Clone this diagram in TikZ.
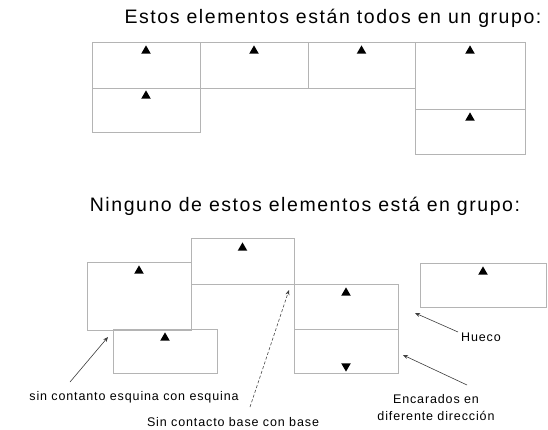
\documentclass[tikz,border=0pt]{standalone}
\usepackage{fontspec}
\setmainfont{Liberation Sans}
\newfontfamily\titfont[LetterSpace=8]{Liberation Sans}
\newfontfamily\notafont[LetterSpace=7]{Liberation Sans}
\usepackage{tikz}
\usetikzlibrary{shapes}
\usetikzlibrary{positioning}
\usetikzlibrary{arrows.meta}
\usepackage{xcolor}
\definecolor{borde}{RGB}{180, 180, 180}
\definecolor{flecha}{RGB}{60, 60, 60}

\begin{document}
\begin{tikzpicture}[x=1pt,y=-1pt,
  pieza/.style={draw=borde,line width=.8pt,inner sep=0pt,outer sep=0pt,anchor=north west},
  arriba/.style={regular polygon,regular polygon sides=3,fill=black,inner sep=0pt,minimum size=11pt},
  abajo/.style={arriba,shape border rotate=180},
  titulo/.style={font=\titfont\fontsize{19.5}{22}\selectfont},
  nota/.style={font=\notafont\fontsize{12.5}{17}\selectfont,align=center,inner sep=0pt},
  apunta/.style={draw=flecha,line width=.6pt,-{Stealth[length=5pt,width=4pt]}}]
\useasboundingbox (0,0) rectangle (548,430);
% todos en un grupo
\node[titulo] (tit1) at (333,18) {Estos elementos están todos en un grupo:};
\node[pieza,minimum width=108pt,minimum height=46pt] (a1) at (92,42) {};
\node[pieza,minimum width=108pt,minimum height=44pt] (a2) at (92,88) {};
\node[pieza,minimum width=108pt,minimum height=46pt] (a3) at (200,42) {};
\node[pieza,minimum width=107pt,minimum height=46pt] (a4) at (308,42) {};
\node[pieza,minimum width=110pt,minimum height=67pt] (a5) at (415,42) {};
\node[pieza,minimum width=110pt,minimum height=45pt] (a6) at (415,109) {};
\node[arriba,below=3pt of a1.north] (ta1) {};
\node[arriba,below=2pt of a2.north] (ta2) {};
\node[arriba,below=3pt of a3.north] (ta3) {};
\node[arriba,below=3pt of a4.north] (ta4) {};
\node[arriba,below=3pt of a5.north] (ta5) {};
\node[arriba,below=3pt of a6.north] (ta6) {};
% ninguno en grupo
\node[titulo] (tit2) at (305,206) {Ninguno de estos elementos está en grupo:};
\node[pieza,minimum width=104pt,minimum height=68pt] (b1) at (87,262) {};
\node[pieza,minimum width=103pt,minimum height=46pt] (b2) at (191,238) {};
\node[pieza,minimum width=104pt,minimum height=44pt] (b3) at (113,329) {};
\node[pieza,minimum width=104pt,minimum height=45pt] (b4) at (294,284) {};
\node[pieza,minimum width=104pt,minimum height=44pt] (b5) at (294,329) {};
\node[pieza,minimum width=126pt,minimum height=44pt] (b6) at (420,263) {};
\node[arriba,below=3pt of b1.north] (tb1) {};
\node[arriba,below=4pt of b2.north] (tb2) {};
\node[arriba,below=3pt of b3.north] (tb3) {};
\node[arriba,below=3pt of b4.north] (tb4) {};
\node[abajo,above=1pt of b5.south] (tb5) {};
\node[arriba,below=3pt of b6.north] (tb6) {};
% notas
\node[nota] (n1) at (134,397) {sin contanto esquina con esquina};
\node[nota,anchor=base] (n2) at (233,426) {Sin contacto base con base};
\node[nota] (n3) at (481,337) {Hueco};
\node[nota] (n4) at (436,408) {Encarados en\\diferente dirección};
\coordinate (c1) at (70,382);
\coordinate (p1) at (108,337);
\coordinate (c2) at (250,407);
\coordinate (p2) at (289,290);
\coordinate (c3) at (458,332);
\coordinate (p3) at (415,313);
\coordinate (c4) at (467,385);
\coordinate (p4) at (403,355);
\draw[apunta] (c1) -- (p1);
\draw[apunta,densely dashed] (c2) -- (p2);
\draw[apunta] (c3) -- (p3);
\draw[apunta] (c4) -- (p4);
\end{tikzpicture}
\end{document}
